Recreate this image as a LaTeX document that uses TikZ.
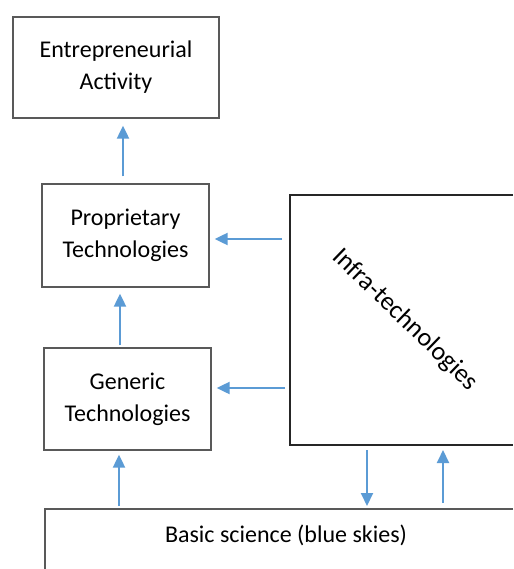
\documentclass[tikz,border=0pt]{standalone}
\usepackage{fontspec}
\setmainfont{Carlito}
\usetikzlibrary{arrows.meta,calc}
\definecolor{arrowblue}{HTML}{5B9BD5}
\definecolor{boxgray}{HTML}{595959}
\definecolor{infragray}{HTML}{262626}
\tikzset{
  boxnode/.style={draw=boxgray, line width=1.3pt, align=center, inner sep=0pt,
    font=\fontsize{24}{32}\selectfont},
  openbox/.style={draw=boxgray, line width=1.3pt},
  infrabox/.style={draw=infragray, line width=2.4pt},
  arr/.style={draw=arrowblue, line width=2pt, -{Triangle[length=13pt,width=12pt]}},
  lbl/.style={font=\fontsize{24}{32}\selectfont, inner sep=0pt}
}
\begin{document}
\begin{tikzpicture}[x=1pt,y=-1pt]
\useasboundingbox (0,0) rectangle (513,569);
\fill[white] (0,0) rectangle (513,569);
% boxes
\node[boxnode, minimum width=206pt, minimum height=101pt] (ent) at (116,67.5) {Entrepreneurial\\Activity};
\node[boxnode, minimum width=167pt, minimum height=103pt] (prop) at (125.5,235.5) {Proprietary\\Technologies};
\node[boxnode, minimum width=167pt, minimum height=102pt] (gen) at (127.5,399) {Generic\\Technologies};
% basic science box (cut by the right and bottom edges)
\coordinate (basic) at (45,509);
\draw[openbox] (513,509) -- (basic) -- (45,569);
\node[lbl] (basictxt) at (286,535) {Basic science (blue skies)};
% infra-technologies box (cut by the right edge)
\coordinate (infraNW) at (290,195);
\coordinate (infraSW) at (290,445);
\draw[infrabox] (513,195) -- (infraNW) -- (infraSW) -- (513,445);
\node[lbl, font=\fontsize{26}{32}\selectfont, rotate=-44] (infratxt) at (405,320) {Infra-technologies};
% arrows
\draw[arr, shorten <=7pt, shorten >=7pt] ([xshift=-2.5pt]prop.north) -- ([xshift=-2.5pt]prop.north |- ent.south);
\draw[arr, shorten <=2pt, shorten >=6pt] ([xshift=-7.5pt]gen.north) -- ([xshift=-7.5pt]gen.north |- prop.south);
\draw[arr, shorten <=3pt, shorten >=4pt] ($(basic)+(74,0)$) coordinate (b1) -- (b1 |- gen.south);
\draw[arr, shorten <=8pt, shorten >=5pt] (infraNW |- 0,239) coordinate (i1) -- (i1 -| prop.east);
\draw[arr, shorten <=5pt, shorten >=5pt] (infraNW |- 0,388) coordinate (i2) -- (i2 -| gen.east);
\draw[arr, shorten <=5pt, shorten >=3pt] ($(infraSW)+(77,0)$) coordinate (i3) -- (i3 |- basic);
\draw[arr, shorten <=6pt, shorten >=5pt] ($(basic)+(398,0)$) coordinate (b2) -- (b2 |- infraSW);
\end{tikzpicture}
\end{document}
